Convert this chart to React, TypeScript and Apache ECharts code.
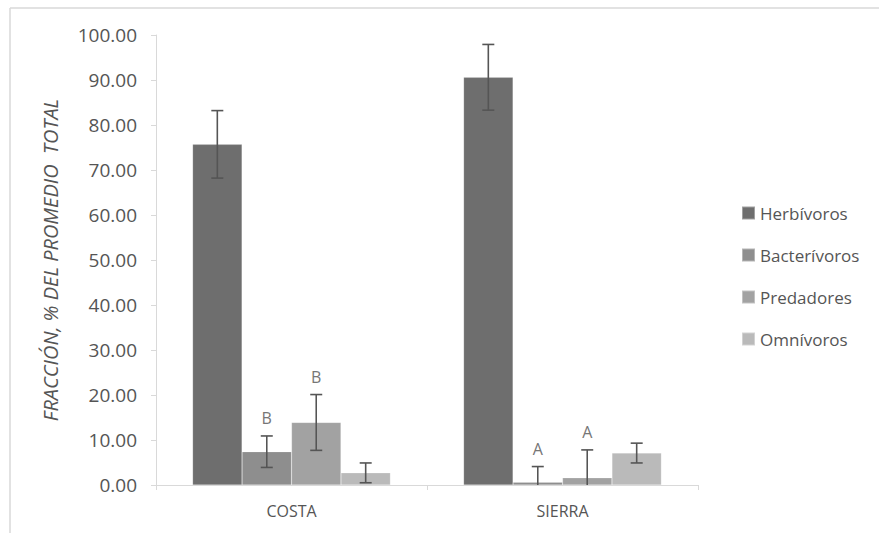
import React, { useEffect, useRef } from "react";
import * as echarts from "echarts";

const categories = ["COSTA", "SIERRA"];
const seriesNames = ["Herbívoros", "Bacterívoros", "Predadores", "Omnívoros"];
const herbivoros = [75.7, 90.6];
const herbivorosErr = [7.5, 7.3];
const bacterivoros = [7.4, 0.6];
const bacterivorosErr = [3.5, 3.5];
const predadores = [13.9, 1.6];
const predadoresErr = [6.2, 6.2];
const omnivoros = [2.7, 7.1];
const omnivorosErr = [2.2, 2.2];
const bacterivorosLetters = ["B", "A"];
const predadoresLetters = ["B", "A"];
const yTicks = [0, 10, 20, 30, 40, 50, 60, 70, 80, 90, 100];

const colors = ["#6e6e6e", "#8e8e8e", "#a2a2a2", "#bababa"];
const CAT_GAP = 0.27;
const FONT = "'Open Sans', sans-serif";

export default function App() {
  const ref = useRef<HTMLDivElement>(null);

  useEffect(() => {
    if (!ref.current) return;
    const chart = echarts.init(ref.current, null, { renderer: "svg" });

    const values = [herbivoros, bacterivoros, predadores, omnivoros];
    const errs = [herbivorosErr, bacterivorosErr, predadoresErr, omnivorosErr];
    const letters: (string[] | null)[] = [null, bacterivorosLetters, predadoresLetters, null];

    const barOffset = (api: any, sIdx: number) => {
      const band = api.size([1, 0])[0];
      const bw = (band * (1 - CAT_GAP)) / 4;
      return (sIdx - 1.5) * bw;
    };

    const barSeries = seriesNames.map((name, i) => ({
      name,
      type: "bar",
      data: values[i],
      barGap: "0%",
      barCategoryGap: "27%",
      itemStyle: { color: colors[i], borderColor: "rgba(255,255,255,0.35)", borderWidth: 0.5 },
      z: 2,
    }));

    const errSeries = seriesNames.map((name, i) => ({
      type: "custom",
      name: name + "-err",
      data: values[i].map((v, k) => [k, v, errs[i][k]]),
      z: 5,
      renderItem: (params: any, api: any) => {
        const k = api.value(0);
        const v = api.value(1);
        const e = api.value(2);
        const hiV = v + e;
        const loV = Math.max(0, v - e);
        const c = api.coord([k, hiV]);
        const x = c[0] + barOffset(api, i);
        const yHi = c[1];
        const yLo = api.coord([k, loV])[1];
        const cap = 6;
        const style = { stroke: "#555555", lineWidth: 1.6 };
        const children: any[] = [
          { type: "line", shape: { x1: x, y1: yHi, x2: x, y2: yLo }, style },
          { type: "line", shape: { x1: x - cap, y1: yHi, x2: x + cap, y2: yHi }, style },
        ];
        if (v - e > 0) {
          children.push({ type: "line", shape: { x1: x - cap, y1: yLo, x2: x + cap, y2: yLo }, style });
        }
        const lt = letters[i];
        if (lt) {
          children.push({
            type: "text",
            style: {
              text: lt[k],
              x,
              y: yHi - 10,
              align: "center",
              verticalAlign: "bottom",
              fill: "#767676",
              font: "16px 'Open Sans'",
            },
          });
        }
        return { type: "group", children };
      },
    }));

    chart.setOption({
      animation: false,
      color: colors,
      textStyle: { fontFamily: FONT },
      grid: { left: 156, right: 181, top: 35, bottom: 48 },
      legend: {
        data: seriesNames,
        orient: "vertical",
        left: 736,
        top: 199,
        icon: "rect",
        itemWidth: 13,
        itemHeight: 13,
        itemGap: 24,
        textStyle: { color: "#555555", fontSize: 17, lineHeight: 18, fontFamily: FONT },
      },
      xAxis: {
        type: "category",
        data: categories,
        axisLine: { lineStyle: { color: "#d9d9d9", width: 1 } },
        axisTick: { show: true, alignWithLabel: false, length: 5, lineStyle: { color: "#d9d9d9" } },
        axisLabel: { color: "#555555", fontSize: 16, margin: 18, fontFamily: FONT },
      },
      yAxis: {
        type: "value",
        min: yTicks[0],
        max: yTicks[yTicks.length - 1],
        interval: 10,
        name: "FRACCIÓN, % DEL PROMEDIO  TOTAL",
        nameLocation: "middle",
        nameGap: 96,
        nameTextStyle: { color: "#555555", fontSize: 20, fontStyle: "italic", fontFamily: FONT },
        axisLine: { show: true, lineStyle: { color: "#d9d9d9" } },
        axisTick: { show: true, length: 5, lineStyle: { color: "#d9d9d9" } },
        splitLine: { show: false },
        axisLabel: {
          color: "#555555",
          fontSize: 19,
          margin: 19,
          fontFamily: FONT,
          formatter: (v: number) => v.toFixed(2),
        },
      },
      graphic: [
        { type: "line", shape: { x1: 10, y1: 8, x2: 879, y2: 8 }, style: { stroke: "#d9d9d9", lineWidth: 1.5 } },
        { type: "line", shape: { x1: 10, y1: 8, x2: 10, y2: 533 }, style: { stroke: "#d9d9d9", lineWidth: 1.5 } },
      ],
      series: [...barSeries, ...errSeries],
    });

    return () => chart.dispose();
  }, []);

  return (
    <div
      ref={ref}
      style={{ position: "fixed", left: 0, top: 0, width: 879, height: 533, background: "#ffffff" }}
    />
  );
}
